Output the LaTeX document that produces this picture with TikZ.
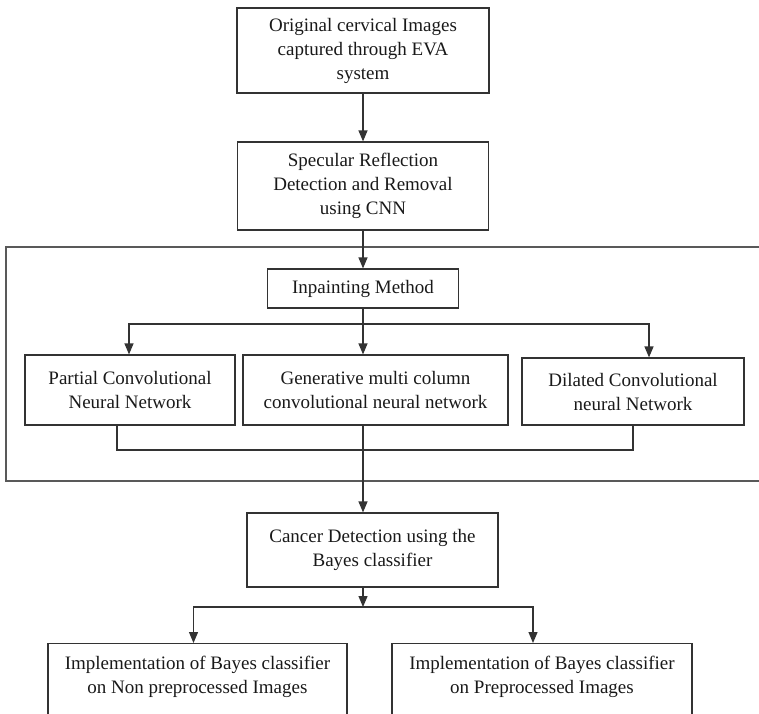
\documentclass[tikz,border=0pt]{standalone}
\usepackage{fontspec}
\setmainfont{Liberation Serif}
\usetikzlibrary{arrows.meta}
\tikzstyle{stage} = [rectangle, draw=black!80, line width=1.2pt, inner sep=0pt,
    align=center, text=black!90, font=\fontsize{19}{24}\selectfont]
\tikzstyle{arrow} = [line width=1.2pt, draw=black!80, ->, >={Triangle[length=11pt,width=9pt]}]
\tikzstyle{link} = [line width=1.2pt, draw=black!80]
\tikzstyle{frame} = [line width=2pt, draw=black!65]

\begin{document}
\begin{tikzpicture}[x=1pt, y=-1pt]
            \useasboundingbox (0,0) rectangle (759,713);
            \node (orig) [stage, minimum width=252, minimum height=85] at (363,50.5)
                {Original cervical Images\\captured through EVA\\system};
            \node (spec) [stage, minimum width=251, minimum height=88] at (363,186)
                {Specular Reflection\\Detection and Removal\\using CNN};
            \node (inpaint) [stage, minimum width=191, minimum height=39] at (363,288.5)
                {Inpainting Method};
            \node (partial) [stage, minimum width=210, minimum height=70] at (130,390)
                {Partial Convolutional\\Neural Network};
            \node (generative) [stage, minimum width=265, minimum height=70] at (375.5,390)
                {Generative multi column\\convolutional neural network};
            \node (dilated) [stage, minimum width=222, minimum height=67] at (633,391.5)
                {Dilated Convolutional\\neural Network};
            \node (cancer) [stage, minimum width=251, minimum height=74] at (372.5,550)
                {Cancer Detection using the\\Bayes classifier};
            \node (implL) [stage, minimum width=299, minimum height=86, anchor=north] at (197.5,643)
                {Implementation of Bayes classifier\\on Non preprocessed Images\\\mbox{}};
            \node (implR) [stage, minimum width=300, minimum height=86, anchor=north] at (542,643)
                {Implementation of Bayes classifier\\on Preprocessed Images\\\mbox{}};
            \coordinate (split) at (363,324);
            \coordinate (merge) at (363,450);
            \coordinate (split2) at (363,607);

            % inpainting block frame, open at the right edge
            \draw [frame] (762,247) -| (6,481) -- (762,481);

            \draw [arrow] (orig) -- (spec);
            \draw [arrow] (spec) -- (inpaint);
            \draw [arrow] (inpaint) -- (inpaint |- generative.north);
            \draw [arrow] (split) -| ([xshift=-1pt]partial.north);
            \draw [arrow] (split) -| ([xshift=16pt]dilated.north);
            \draw [link] ([xshift=-13pt]partial.south) |- (merge) -| (dilated.south);
            \draw [arrow] (merge |- generative.south) -- (merge |- cancer.north);
            \draw [arrow] (split2 |- cancer.south) -- (split2);
            \draw [arrow] (split2) -| ([xshift=-4pt]implL.north);
            \draw [arrow] (split2) -| ([xshift=-9pt]implR.north);
        \end{tikzpicture}
\end{document}
